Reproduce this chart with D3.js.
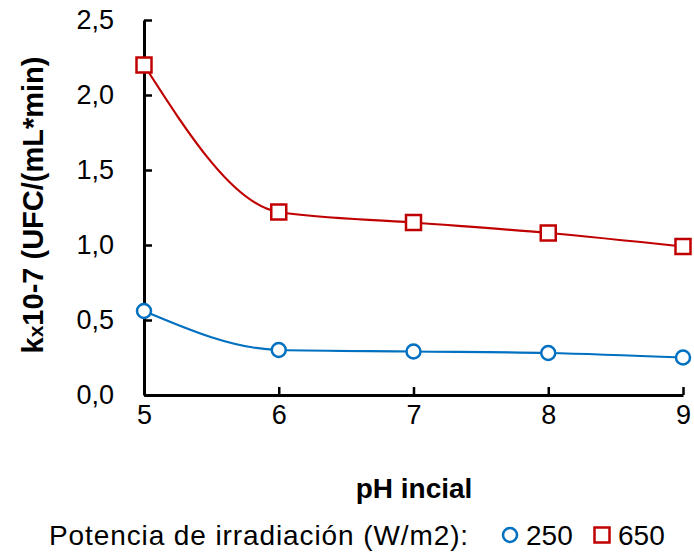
<!DOCTYPE html>
<html>
<head>
<meta charset="utf-8">
<script src="https://cdn.jsdelivr.net/npm/d3@7"></script>
<style>
  html, body { margin: 0; padding: 0; background: #fff; }
  svg { display: block; font-family: "Liberation Sans", Arial, sans-serif; }
</style>
</head>
<body>
<svg id="chart" width="694" height="552"></svg>
<script>
// pH values on the x axis
const phValues = [5, 6, 7, 8, 9];
// rate constant k (x10^-7 UFC/(mL*min)) for each irradiation power
const k250 = [0.56, 0.30, 0.29, 0.28, 0.25];
const k650 = [2.20, 1.22, 1.15, 1.08, 0.99];
const yTicks = [0, 0.5, 1.0, 1.5, 2.0, 2.5];
const xTicks = [5, 6, 7, 8, 9];

const series = [
  { name: "250", values: k250, color: "#0070C0", shape: "circle" },
  { name: "650", values: k650, color: "#C00000", shape: "square" }
];

const svg = d3.select("#chart");
const margin = { left: 144, right: 11, top: 20, bottom: 157 };
const W = 694, H = 552;
const FS = 27;

const x = d3.scaleLinear().domain([5, 9]).range([margin.left, W - margin.right]);
const y = d3.scaleLinear().domain([0, 2.5]).range([H - margin.bottom, margin.top]);
const fmt = d => d3.format(".1f")(d).replace(".", ",");

// y axis (ticks pointing inward)
const yAxis = svg.append("g")
  .attr("transform", `translate(${margin.left},0)`)
  .call(d3.axisLeft(y).tickValues(yTicks).tickSizeInner(-8).tickSizeOuter(0).tickPadding(30).tickFormat(fmt));
yAxis.select(".domain").attr("stroke", "#000").attr("stroke-width", 3);
yAxis.selectAll(".tick line").attr("stroke", "#000").attr("stroke-width", 2.5);
yAxis.selectAll(".tick text").attr("font-size", FS).attr("fill", "#000")
  .attr("font-family", "Liberation Sans, Arial, sans-serif");

// x axis
const xAxis = svg.append("g")
  .attr("transform", `translate(0,${y(0)})`)
  .call(d3.axisBottom(x).tickValues(xTicks).tickSizeInner(-8).tickSizeOuter(0).tickPadding(10).tickFormat(d3.format("d")));
xAxis.select(".domain").attr("stroke", "#000").attr("stroke-width", 3);
xAxis.selectAll(".tick line").attr("stroke", "#000").attr("stroke-width", 2.5);
xAxis.selectAll(".tick text").attr("font-size", FS).attr("fill", "#000")
  .attr("font-family", "Liberation Sans, Arial, sans-serif");

// smoothed lines
const line = d3.line()
  .x((d, i) => x(phValues[i]))
  .y(d => y(d))
  .curve(d3.curveMonotoneX);

series.forEach(s => {
  svg.append("path")
    .attr("d", line(s.values))
    .attr("fill", "none")
    .attr("stroke", s.color)
    .attr("stroke-width", 2.2);
});

function drawMarker(g, shape, cx, cy, color) {
  if (shape === "circle") {
    g.append("circle").attr("cx", cx).attr("cy", cy).attr("r", 7)
      .attr("fill", "#fff").attr("stroke", color).attr("stroke-width", 2.5);
  } else {
    g.append("rect").attr("x", cx - 7.5).attr("y", cy - 7.5).attr("width", 15).attr("height", 15)
      .attr("fill", "#fff").attr("stroke", color).attr("stroke-width", 2.5);
  }
}

series.forEach(s => {
  const g = svg.append("g");
  s.values.forEach((v, i) => drawMarker(g, s.shape, x(phValues[i]), y(v), s.color));
});

// axis titles
svg.append("text")
  .attr("x", 414).attr("y", 498)
  .attr("text-anchor", "middle")
  .attr("font-size", 28).attr("font-weight", "bold")
  .text("pH incial");

const yt = svg.append("text")
  .attr("transform", `translate(43,205) rotate(-90)`)
  .attr("text-anchor", "middle")
  .attr("font-size", 29).attr("font-weight", "bold");
yt.append("tspan").text("k");
yt.append("tspan").attr("font-size", 21).text("x");
yt.append("tspan").text("10-7 (UFC/(mL*min)");

// legend
const lg = svg.append("g");
lg.append("text").attr("x", 49).attr("y", 545).attr("font-size", 28)
  .attr("letter-spacing", 0.9).text("Potencia de irradiación (W/m2):");
drawMarker(lg, "circle", 510, 535, series[0].color);
lg.append("text").attr("x", 526).attr("y", 545).attr("font-size", 28).text(series[0].name);
drawMarker(lg, "square", 602, 535, series[1].color);
lg.append("text").attr("x", 618).attr("y", 545).attr("font-size", 28).text(series[1].name);
</script>
</body>
</html>
